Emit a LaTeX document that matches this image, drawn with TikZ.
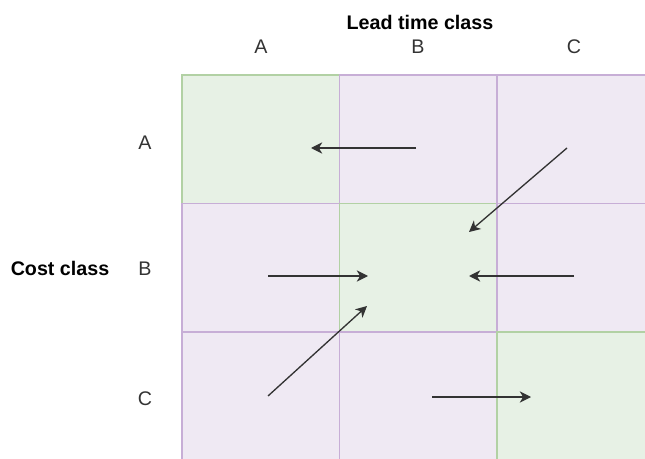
\documentclass[tikz,border=0pt]{standalone}
\usepackage{fontspec}
\setmainfont{Liberation Sans}
\usetikzlibrary{arrows.meta, positioning}
\definecolor{paleGreen}{HTML}{E7F1E5}
\definecolor{edgeGreen}{HTML}{B2D1A4}
\definecolor{palePurple}{HTML}{EFE9F3}
\definecolor{edgePurple}{HTML}{C7AED6}
\definecolor{ink}{HTML}{333333}
\tikzset{
  cell/.style={rectangle, draw=edgePurple, fill=palePurple, line width=0.75pt,
    minimum width=157.5*0.025cm, minimum height=128.5*0.025cm, inner sep=0pt,
    outer sep=0pt},
  cellok/.style={cell, draw=edgeGreen, fill=paleGreen},
  lbl/.style={font=\fontsize{14}{16}\selectfont, text=ink},
  head/.style={lbl, font=\fontsize{14}{16}\selectfont\bfseries, text=black},
  move/.style={-{Stealth[length=8pt, width=8pt, inset=2.4pt]}, line width=0.95pt, ink},
}
\begin{document}
\begin{tikzpicture}[x=0.025cm, y=-0.025cm]
\useasboundingbox (0,0) rectangle (645,459);
\clip (0,0) rectangle (645,459);
% grid of cost class (rows) vs lead time class (columns)
\node[cellok, anchor=north west] (cAA) at (182,75) {};
\node[cell, right=0pt of cAA] (cAB) {};
\node[cell, right=0pt of cAB] (cAC) {};
\node[cell, below=0pt of cAA] (cBA) {};
\node[cellok, right=0pt of cBA] (cBB) {};
\node[cell, right=0pt of cBB] (cBC) {};
\node[cell, below=0pt of cBA] (cCA) {};
\node[cell, right=0pt of cCA] (cCB) {};
\node[cellok, right=0pt of cCB] (cCC) {};
% headings
\node[head] (lead) at (420,22) {Lead time class};
\node[head] (cost) at (60,268) {Cost class};
\node[lbl] (colA) at (261,47) {A};
\node[lbl] (colB) at (418,47) {B};
\node[lbl] (colC) at (574,47) {C};
\node[lbl] (rowA) at (145,143) {A};
\node[lbl] (rowB) at (145,269) {B};
\node[lbl] (rowC) at (145,399) {C};
% moves towards the diagonal
\coordinate (m1s) at (416,148); \coordinate (m1e) at (311,148);
\coordinate (m2s) at (567,148); \coordinate (m2e) at (469,232);
\coordinate (m3s) at (268,276); \coordinate (m3e) at (368,276);
\coordinate (m4s) at (574,276); \coordinate (m4e) at (469,276);
\coordinate (m5s) at (268,396); \coordinate (m5e) at (367,306);
\coordinate (m6s) at (432,397); \coordinate (m6e) at (531,397);
\draw[move] (m1s) -- (m1e);
\draw[move] (m2s) -- (m2e);
\draw[move] (m3s) -- (m3e);
\draw[move] (m4s) -- (m4e);
\draw[move] (m5s) -- (m5e);
\draw[move] (m6s) -- (m6e);
\end{tikzpicture}
\end{document}
